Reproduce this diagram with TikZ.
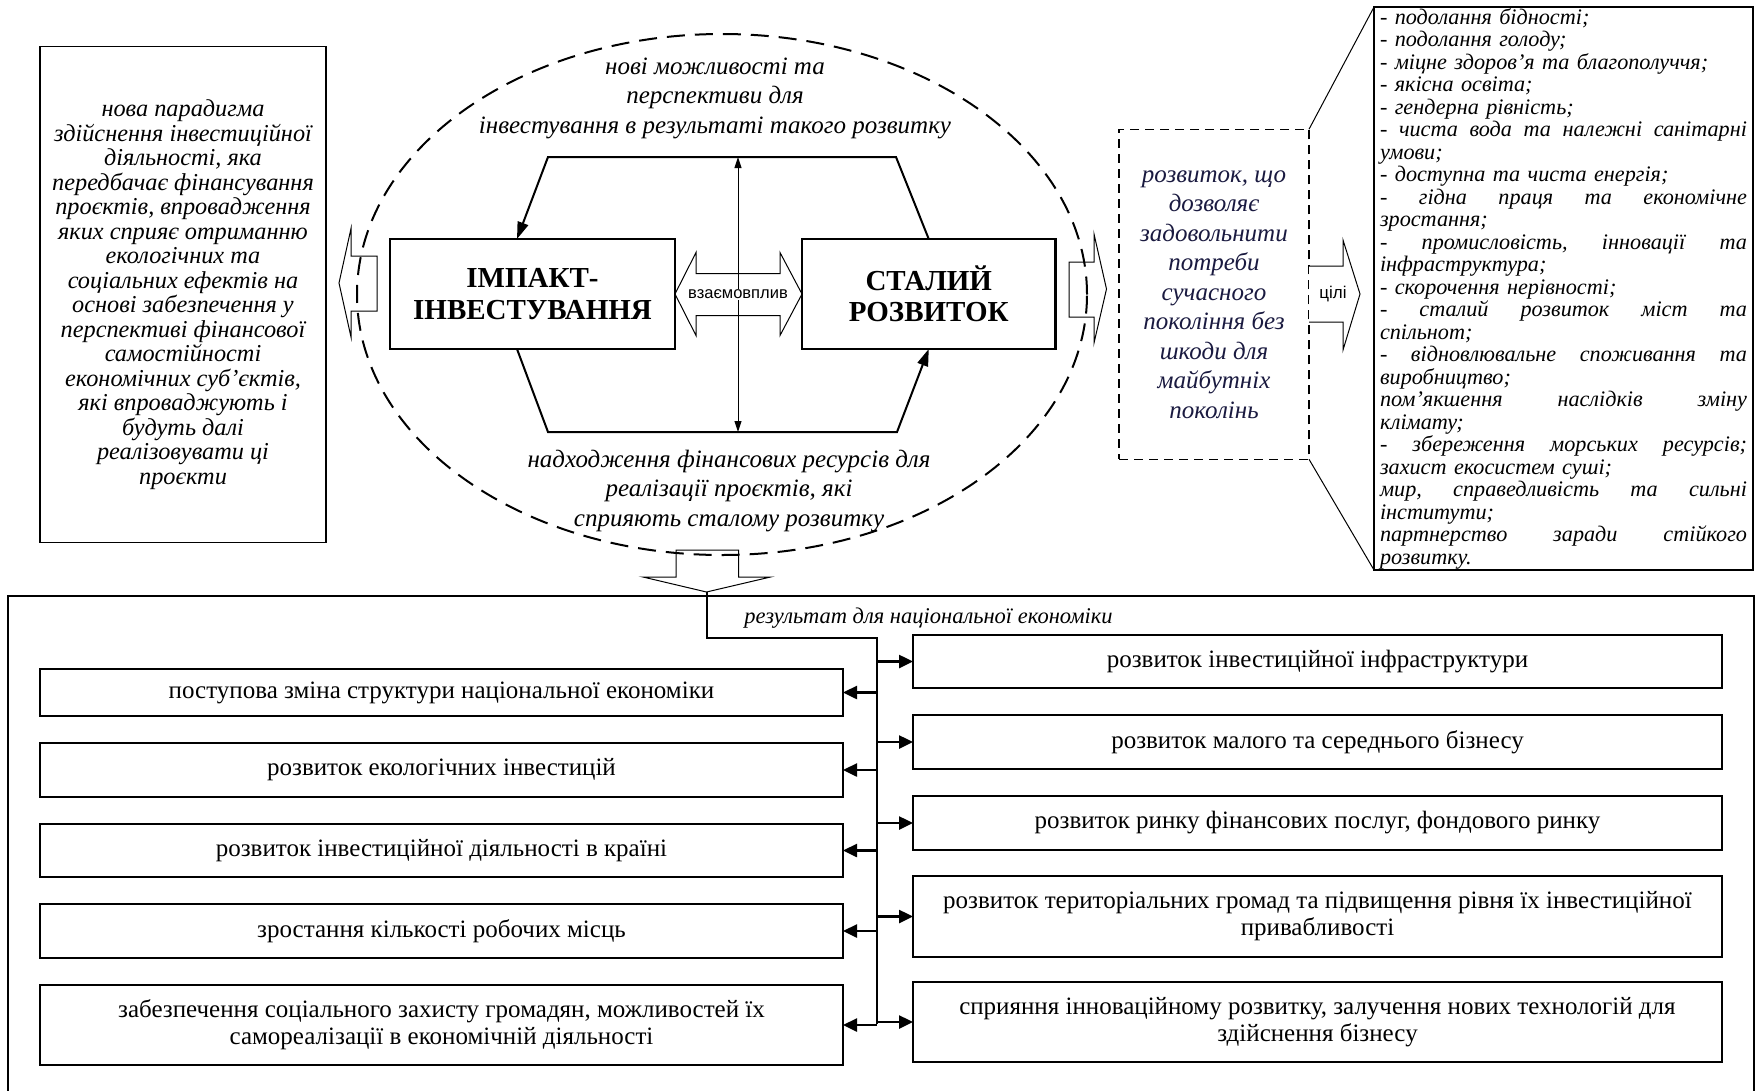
\documentclass[tikz,border=0pt]{standalone}
\usepackage{fontspec}
\setmainfont{Liberation Serif}
\newfontfamily\sansf{Liberation Sans}
\usetikzlibrary{arrows.meta,shapes.geometric,calc}
\definecolor{navy}{RGB}{26,26,64}
\newcommand\spreadline[1]{\leavevmode\hbox to 367pt{#1}}
\begin{document}
\begin{tikzpicture}[x=1pt,y=-1pt,
  every node/.style={inner sep=0pt, outer sep=0pt},
  bx/.style={draw, line width=2.5pt, fill=white, align=center, font=\fontsize{25}{27}\selectfont},
  lbx/.style={bx, minimum width=803pt},
  rbx/.style={bx, minimum width=809pt},
  arr/.style={line width=2.5pt, -{Triangle[length=14pt,width=13pt]}},
  hexl/.style={line width=2pt, -{Triangle[length=17pt,width=11pt]}},
  thinarr/.style={line width=1pt, {Triangle[length=11pt,width=7pt]}-{Triangle[length=11pt,width=7pt]}},
  hollow/.style={draw, line width=1pt, line join=miter},
  itxt/.style={align=center, font=\fontsize{25}{29.5}\selectfont\itshape},
  bigb/.style={draw, line width=2.5pt, fill=white, minimum height=110pt, align=center, font=\fontsize{29}{31.5}\selectfont\bfseries}
]
\fill[white] (0,0) rectangle (1756,1090);
\useasboundingbox (0,0) rectangle (1756,1090);

% left text box
\node[draw, line width=1.5pt, minimum width=286pt, minimum height=496pt, align=center,
      font=\fontsize{24.3}{24.5}\selectfont\itshape] (lbox) at (183,294.5)
 {нова парадигма\\здійснення інвестиційної\\діяльності, яка\\передбачає фінансування\\проєктів, впровадження\\яких сприяє отриманню\\екологічних та\\соціальних ефектів на\\основі забезпечення у\\перспективі фінансової\\самостійності\\економічних суб’єктів,\\які впроваджують і\\будуть далі\\реалізовувати ці\\проєкти};

% dashed ellipse
\node[draw, ellipse, dash pattern=on 18pt off 10pt, line width=2pt, minimum width=730pt, minimum height=521pt] (ell) at (722,294.5) {};

% texts in ellipse
\node[itxt] (toptxt) at (715,98) {нові можливості та\\перспективи для\\інвестування в результаті такого розвитку};
\node[itxt] (bottxt) at (729,491) {надходження фінансових ресурсів для\\реалізації проєктів, які\\сприяють сталому розвитку};

% main boxes
\node[bigb, minimum width=285pt] (imp) at (532.5,294) {ІМПАКТ-\\ІНВЕСТУВАННЯ};
\node[bigb, minimum width=253.5pt] (stal) at (928.75,294) {СТАЛИЙ\\РОЗВИТОК};

% hexagon connectors
\coordinate (tl) at (548,157);
\coordinate (tr) at (896,157);
\coordinate (bl) at (548,432);
\coordinate (br) at (897,432);
\draw[hexl] (stal.north) -- (tr) -- (tl) -- ([xshift=-15.5pt]imp.north);
\draw[hexl] ([xshift=-15.5pt]imp.south) -- (bl) -- (br) -- (stal.south);
\coordinate (vt) at (738,157);
\coordinate (vb) at (738,432);
\draw[thinarr] (vt) -- (vb);

% hollow double arrow
\draw[hollow] (imp.east) -- ++(21,-41.5) -- ++(0,21) -- ++(84,0) -- ++(0,-21) -- (stal.west)
  -- ++(-22,41.5) -- ++(0,-20) -- ++(-84,0) -- ++(0,20) -- cycle;
\node[fill=white, inner sep=1pt, font=\sansf\fontsize{16.5}{18}\selectfont] (vz) at (738,294.5) {взаємовплив};

% left hollow arrow
\draw[hollow] (377,256) -- (351,256) -- (351,228.5) -- (339,283) -- (351,337) -- (351,311) -- (377,311) -- cycle;
% right hollow arrow
\draw[hollow] (1069,262) -- (1094,262) -- (1094,234) -- (1106.5,289) -- (1094,343) -- (1094,317) -- (1069,317) -- cycle;
% down hollow arrow
\draw[hollow] (676,550) -- (738.5,550) -- (738.5,577) -- (770.5,577) -- (706.5,592) -- (643,577) -- (676,577) -- cycle;

% dashed box
\node[draw, dash pattern=on 9pt off 6pt, line width=1.3pt, minimum width=190pt, minimum height=330pt, align=center,
      text=navy, font=\fontsize{25}{29.5}\selectfont\itshape] (dbox) at (1214,294.25)
 {розвиток, що\\дозволяє\\задовольнити\\потреби\\сучасного\\покоління без\\шкоди для\\майбутніх\\поколінь};

% goals arrow
\fill[white] (1309,266) -- (1343,266) -- (1343,240) -- (1360,294) -- (1343,350) -- (1343,322) -- (1309,322) -- cycle;
\draw[line width=1pt, line join=miter] (1309,266) -- (1343,266) -- (1343,240) -- (1360,294) -- (1343,350) -- (1343,322) -- (1309,322);
\node[font=\sansf\fontsize{17}{19}\selectfont] (cili) at (1333,294) {цілі};

% goals box
\node[draw, line width=1.5pt, minimum height=563pt, text width=367pt, inner xsep=6pt, align=left,
      font=\fontsize{22.2}{22.5}\selectfont\itshape] (rbox) at (1563.5,288.5)
 {- подолання бідності;\\
  - подолання голоду;\\
  - міцне здоров’я та благополуччя;\\
  - якісна освіта;\\
  - гендерна рівність;\\
  \spreadline{-\hfill чиста\hfill вода\hfill та\hfill належні\hfill санітарні}\\
  умови;\\
  - доступна та чиста енергія;\\
  \spreadline{-\hfill гідна\hfill праця\hfill та\hfill економічне}\\
  зростання;\\
  \spreadline{-\hfill промисловість,\hfill інновації\hfill та}\\
  інфраструктура;\\
  - скорочення нерівності;\\
  \spreadline{-\hfill сталий\hfill розвиток\hfill міст\hfill та}\\
  спільнот;\\
  \spreadline{-\hfill відновлювальне\hfill споживання\hfill та}\\
  виробництво;\\
  \spreadline{пом’якшення\hfill наслідків\hfill зміну}\\
  клімату;\\
  \spreadline{-\hfill збереження\hfill морських\hfill ресурсів;}\\
  захист екосистем суші;\\
  \spreadline{мир,\hfill справедливість\hfill та\hfill сильні}\\
  інститути;\\
  \spreadline{партнерство\hfill заради\hfill стійкого}\\
  розвитку.};

\draw[line width=1pt] (dbox.north east) -- (rbox.north west);
\draw[line width=1pt] (dbox.south east) -- (rbox.south west);

% bottom container
\draw[line width=2pt] (8,1096) -- (8,596) -- (1754,596) -- (1754,1096);

% trunk
\coordinate (t0) at (706.5,592);
\coordinate (t1) at (706.5,638);
\coordinate (t2) at (876.5,638);
\coordinate (t3) at (876.5,1024);
\draw[line width=2pt] (t0) -- (t1) -- (t2) -- (t3);
\node[font=\fontsize{22.5}{24}\selectfont\itshape] (res) at (928.5,618) {результат для національної економіки};

% left boxes
\node[lbx, minimum height=47pt] (L1) at (441.5,692.5) {поступова зміна структури національної економіки};
\node[lbx, minimum height=54pt] (L2) at (441.5,770) {розвиток екологічних інвестицій};
\node[lbx, minimum height=53pt] (L3) at (441.5,850.5) {розвиток інвестиційної діяльності в країні};
\node[lbx, minimum height=54pt] (L4) at (441.5,931) {зростання кількості робочих місць};
\node[lbx, minimum height=80pt] (L5) at (441.5,1025) {забезпечення соціального захисту громадян, можливостей їх\\самореалізації в економічній діяльності};

% right boxes
\node[rbx, minimum height=53pt] (R1) at (1317.5,661.5) {розвиток інвестиційної інфраструктури};
\node[rbx, minimum height=54pt] (R2) at (1317.5,742) {розвиток малого та середнього бізнесу};
\node[rbx, minimum height=54pt] (R3) at (1317.5,823) {розвиток ринку фінансових послуг, фондового ринку};
\node[rbx, minimum height=81pt] (R4) at (1317.5,916.5) {розвиток територіальних громад та підвищення рівня їх інвестиційної\\привабливості};
\node[rbx, minimum height=80pt] (R5) at (1317.5,1022) {сприяння інноваційному розвитку, залучення нових технологій для\\здійснення бізнесу};

\foreach \b in {L1,L2,L3,L4,L5} \draw[arr] (t2 |- \b.east) -- (\b.east);
\foreach \b in {R1,R2,R3,R4,R5} \draw[arr] (t2 |- \b.west) -- (\b.west);
\end{tikzpicture}
\end{document}
